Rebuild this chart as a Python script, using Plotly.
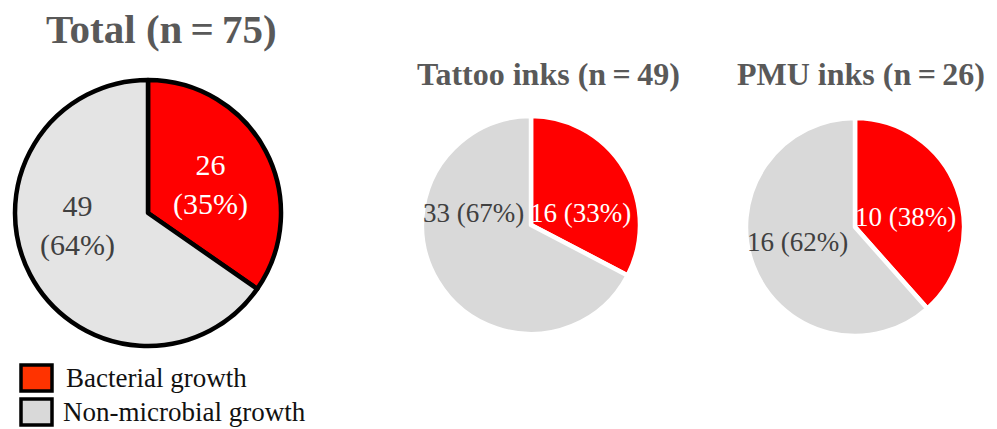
import plotly.graph_objects as go

W, H = 997, 429

categories = ["Bacterial growth", "Non-microbial growth"]
titles = ["Total", "Tattoo inks", "PMU inks"]
n_totals = [75, 49, 26]
total_counts = [26, 49]
tattoo_counts = [16, 33]
pmu_counts = [10, 16]
total_pct = [35, 64]
tattoo_pct = [33, 67]
pmu_pct = [38, 62]

FONT = "Liberation Serif"

def px_x(x):
    return x / W

def px_y(y):
    return 1 - y / H

fig = go.Figure()

# pie geometry (pixel boxes)
pies = [
    dict(vals=total_counts, box=(15, 281, 80, 346), colors=["#FF0000", "#E4E4E4"], line=dict(color="#000000", width=4.5)),
    dict(vals=tattoo_counts, box=(422, 640, 116, 334), colors=["#FF0000", "#D9D9D9"], line=dict(color="#FFFFFF", width=4.5)),
    dict(vals=pmu_counts, box=(746, 964, 118, 336), colors=["#FF0000", "#D9D9D9"], line=dict(color="#FFFFFF", width=4.5)),
]
for p in pies:
    x0, x1, y0, y1 = p["box"]
    fig.add_trace(go.Pie(
        labels=categories, values=p["vals"], sort=False, direction="clockwise", rotation=0,
        marker=dict(colors=p["colors"], line=p["line"]),
        textinfo="none", hoverinfo="label+value+percent", showlegend=False,
        domain=dict(x=[px_x(x0), px_x(x1)], y=[px_y(y1), px_y(y0)]),
    ))

ann = []
# titles
title_pos = [(161, 29, 41), (548, 74, 32), (861, 74, 32)]
for t, n, (x, y, s) in zip(titles, n_totals, title_pos):
    ann.append(dict(text=f"<b>{t} (n\u2009=\u2009{n})</b>", x=px_x(x), y=px_y(y), xref="paper", yref="paper",
                    showarrow=False, xanchor="center", yanchor="middle",
                    font=dict(family=FONT, size=s, color="#595959")))

# slice labels
label_specs = [
    (total_counts[0], total_pct[0], 210, 184, 30, "#FFFFFF", "<br>"),
    (total_counts[1], total_pct[1], 77, 225, 30, "#404040", "<br>"),
    (tattoo_counts[0], tattoo_pct[0], 580, 213, 27, "#FFFFFF", " "),
    (tattoo_counts[1], tattoo_pct[1], 473, 213, 27, "#404040", " "),
    (pmu_counts[0], pmu_pct[0], 905, 217, 27, "#FFFFFF", " "),
    (pmu_counts[1], pmu_pct[1], 797, 242, 27, "#404040", " "),
]
for c, pc, x, y, s, col, sep in label_specs:
    ann.append(dict(text=f"{c}{sep}({pc}%)", x=px_x(x), y=px_y(y), xref="paper", yref="paper",
                    showarrow=False, xanchor="center", yanchor="middle",
                    font=dict(family=FONT, size=s, color=col)))

# legend
legend_colors = ["#FF3300", "#D9D9D9"]
legend_rows = [(365, 391, 64, 378), (399, 425, 61, 412)]
shapes = []
for cat, col, (sy0, sy1, tx, ty) in zip(categories, legend_colors, legend_rows):
    shapes.append(dict(type="rect", xref="paper", yref="paper",
                       x0=px_x(21), x1=px_x(52), y0=px_y(sy1), y1=px_y(sy0),
                       fillcolor=col, line=dict(color="#000000", width=3.5)))
    ann.append(dict(text=cat, x=px_x(tx), y=px_y(ty), xref="paper", yref="paper",
                    showarrow=False, xanchor="left", yanchor="middle",
                    font=dict(family=FONT, size=27, color="#111111")))

fig.update_layout(
    width=W, height=H, margin=dict(l=0, r=0, t=0, b=0),
    paper_bgcolor="#FFFFFF", plot_bgcolor="#FFFFFF",
    annotations=ann, shapes=shapes, showlegend=False,
)

fig.write_html("out.html")
